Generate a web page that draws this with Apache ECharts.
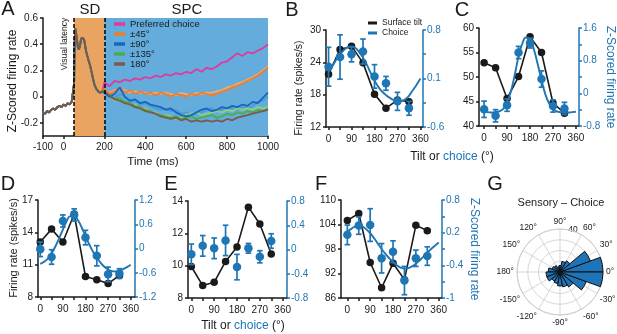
<!DOCTYPE html>
<html>
<head>
<meta charset="utf-8">
<script src="https://cdn.jsdelivr.net/npm/echarts@6.0.0/dist/echarts.min.js"></script>
<style>
  html, body { margin: 0; padding: 0; background: #fff; }
  #chart { width: 617px; height: 334px; }
</style>
</head>
<body>
<div id="chart"></div>
<script>
// ---- Panel A: z-scored firing rate over time ----
const earlyTimes = [-100, -90, -80, -70, -60, -50, -40, -30, -20, -10, 0, 10, 20, 30, 40,
  48, 52, 55, 58, 62, 66, 70, 75, 80, 85, 90, 95, 100, 105, 110,
  120, 130, 140, 150, 160, 170, 180, 190];
const earlyZ = [-0.12, -0.13, -0.11, -0.12, -0.10, -0.09, -0.10, -0.08, -0.07, -0.08, -0.06, -0.07, -0.05, -0.06, -0.04,
  -0.03, 0.10, 0.42, 0.52, 0.48, 0.44, 0.38, 0.36, 0.38, 0.43, 0.45, 0.46, 0.44, 0.40, 0.35,
  0.29, 0.24, 0.17, 0.10, 0.06, 0.04, 0.03, 0.04];
const lateTimes = [200, 225, 250, 275, 300, 325, 350, 375, 400, 425, 450, 475, 500, 525, 550, 575,
  600, 625, 650, 675, 700, 725, 750, 775, 800, 825, 850, 875, 900, 925, 950, 975, 1000];
const preferredLate = [0.11, 0.08, 0.12, 0.11, 0.13, 0.12, 0.14, 0.13, 0.15, 0.14, 0.16, 0.15, 0.17, 0.16, 0.18, 0.17,
  0.19, 0.18, 0.21, 0.19, 0.22, 0.21, 0.23, 0.26, 0.27, 0.30, 0.33, 0.31, 0.34, 0.33, 0.35, 0.37, 0.40];
const pos45Late = [0.06, 0.02, 0.04, 0.07, 0.03, 0.05, 0.02, 0.04, 0.02, 0.03, 0.01, 0.03, 0.02, 0.00, 0.02, 0.01,
  0.00, 0.02, 0.01, 0.03, 0.02, 0.01, 0.02, 0.04, 0.05, 0.07, 0.08, 0.10, 0.12, 0.14, 0.16, 0.19, 0.22];
const neg45Late = [0.05, 0.03, 0.05, 0.06, 0.05, 0.03, 0.04, 0.03, 0.03, 0.02, 0.03, 0.02, 0.03, 0.02, 0.01, 0.03,
  0.02, 0.01, 0.03, 0.02, 0.03, 0.03, 0.04, 0.05, 0.07, 0.08, 0.10, 0.11, 0.13, 0.15, 0.17, 0.20, 0.23];
const pos90Late = [0.03, 0.00, 0.02, 0.07, 0.00, -0.03, -0.02, -0.05, -0.04, -0.06, -0.07, -0.08, -0.10, -0.09, -0.12, -0.14,
  -0.15, -0.14, -0.12, -0.10, -0.09, -0.11, -0.10, -0.08, -0.09, -0.07, -0.08, -0.06, -0.07, -0.04, -0.05, -0.01, 0.03];
const neg90Late = [0.02, 0.01, -0.01, 0.02, 0.00, -0.04, -0.03, -0.06, -0.05, -0.07, -0.09, -0.10, -0.09, -0.11, -0.10, -0.13,
  -0.12, -0.14, -0.13, -0.12, -0.10, -0.09, -0.11, -0.10, -0.08, -0.09, -0.10, -0.08, -0.09, -0.07, -0.04, -0.03, 0.00];
const pos135Late = [0.04, 0.00, -0.02, -0.01, -0.04, -0.05, -0.07, -0.08, -0.10, -0.11, -0.13, -0.14, -0.15, -0.16, -0.15, -0.17,
  -0.16, -0.15, -0.17, -0.16, -0.15, -0.14, -0.16, -0.15, -0.13, -0.14, -0.12, -0.13, -0.11, -0.12, -0.10, -0.11, -0.09];
const neg135Late = [0.03, 0.01, -0.03, -0.02, -0.05, -0.06, -0.06, -0.09, -0.09, -0.12, -0.12, -0.15, -0.14, -0.15, -0.17, -0.16,
  -0.14, -0.13, -0.12, -0.14, -0.13, -0.12, -0.11, -0.12, -0.10, -0.11, -0.09, -0.10, -0.09, -0.10, -0.08, -0.09, -0.08];
const oppositeLate = [0.04, 0.01, -0.02, -0.03, -0.05, -0.06, -0.08, -0.09, -0.11, -0.12, -0.13, -0.15, -0.16, -0.17, -0.16, -0.18,
  -0.17, -0.19, -0.18, -0.19, -0.18, -0.19, -0.18, -0.19, -0.17, -0.18, -0.16, -0.15, -0.14, -0.13, -0.12, -0.11, -0.10];
const timeLabels = [-100, 0, 200, 400, 600, 800, 1000];
const zLabels = [-0.2, 0, 0.2, 0.4, 0.6];
const visualLatency = 52;
const choiceOnset = 200;

// ---- Panels B-F: tuning curves ----
const tiltAngles = [0, 45, 90, 135, 180, 225, 270, 315];
const fitAngles = [0, 15, 30, 45, 60, 75, 90, 105, 120, 135, 150, 165, 180, 195, 210, 225, 240, 255, 270, 285, 300, 315, 330, 345, 360];
const angleLabels = [0, 90, 180, 270, 360];
const angleTicks = [0, 45, 90, 135, 180, 225, 270, 315, 360];

const bTilt = [21.8, 26.4, 27.0, 23.9, 18.1, 15.5, 17.0, 16.7];
const bChoice = [0.27, 0.41, 0.45, 0.49, 0.13, 0.03, -0.23, -0.33];
const bErr = [0.28, 0.32, 0.11, 0.18, 0.17, 0.10, 0.13, 0.10];
const bFit = [0.20, 0.28, 0.37, 0.45, 0.51, 0.55, 0.56, 0.54, 0.48, 0.40, 0.30, 0.18, 0.07, -0.02, -0.09, -0.14,
  -0.18, -0.21, -0.22, -0.22, -0.20, -0.15, -0.07, 0.01, 0.10];

const cTilt = [52.9, 51.9, 45.6, 50.1, 58.2, 55.0, 44.7, 42.6];
const cChoice = [-0.39, -0.55, -0.29, 1.00, 1.23, 0.35, -0.31, -0.37];
const cErr = [0.20, 0.15, 0.15, 0.15, 0.12, 0.20, 0.15, 0.15];
const cFit = [-0.45, -0.46, -0.47, -0.46, -0.44, -0.38, -0.22, 0.05, 0.45, 0.90, 1.22, 1.37, 1.32, 1.08, 0.72, 0.33,
  -0.02, -0.25, -0.38, -0.44, -0.46, -0.47, -0.47, -0.46, -0.45];

const dTilt = [13.1, 14.3, 13.1, 15.7, 9.9, 9.6, 9.25, 10.0];
const dChoice = [-0.02, -0.21, 0.68, 0.83, 0.27, -0.18, -0.64, -0.62];
const dErr = [0.18, 0.18, 0.15, 0.15, 0.18, 0.25, 0.18, 0.12];
const dFit = [-0.38, -0.33, -0.25, -0.12, 0.05, 0.25, 0.47, 0.68, 0.80, 0.80, 0.70, 0.52, 0.30, 0.10, -0.08, -0.22,
  -0.35, -0.45, -0.52, -0.56, -0.57, -0.55, -0.51, -0.46, -0.40];

const eTilt = [9.95, 8.77, 8.97, 10.26, 11.15, 13.62, 12.58, 10.72];
const eChoice = [-0.08, 0.06, 0.02, 0.15, -0.29, 0.02, -0.12, 0.14];
const eErr = [0.17, 0.17, 0.17, 0.25, 0.21, 0.08, 0.10, 0.12];

const fTilt = [105.0, 106.7, 94.7, 88.5, 94.5, 90.5, 103.8, 102.5];
const fChoice = [0.16, 0.33, 0.34, -0.27, -0.15, -0.68, -0.27, -0.23];
const fErr = [0.18, 0.16, 0.30, 0.27, 0.20, 0.26, 0.15, 0.17];
const fFit = [0.21, 0.27, 0.31, 0.33, 0.31, 0.26, 0.19, 0.10, 0.00, -0.10, -0.19, -0.27, -0.34, -0.40, -0.44, -0.46,
  -0.45, -0.42, -0.37, -0.31, -0.24, -0.17, -0.10, -0.04, 0.02];

// ---- Panel G: sensory - choice angle histogram (20 deg bins from 0 deg, counter-clockwise) ----
const roseBins = ['0', '20', '40', '60', '80', '100', '120', '140', '160', '180', '200', '220', '240', '260', '280', '300', '320', '340'];
const roseCounts = [40, 30, 12, 10, 6, 5, 7, 8, 11, 13, 13, 10, 11, 13, 14, 16, 26, 40];

const FONT = '"Liberation Sans", Arial, Helvetica, sans-serif';
const INK = '#1a1a1a';
const BLUE = '#1f76b4';
const GRIDGREY = '#cdcdcd';

const pairs = (xs, ys) => xs.map((x, i) => [x, ys[i]]);

const panels = [
  { box: [326, 30, 97, 97], xr: [-10, 370], left: [12, 30], leftLabels: [12, 18, 24, 30],
    right: [-0.6, 0.8], rightLabels: [-0.6, 0.1, 0.8], rightTicks: [-0.6, -0.25, 0.1, 0.45, 0.8],
    tilt: bTilt, choice: bChoice, err: bErr, fit: bFit },
  { box: [479, 28, 100, 98], xr: [-20, 372], left: [40, 60], leftLabels: [40, 45, 50, 55, 60],
    right: [-0.8, 1.6], rightLabels: [-0.8, 0, 0.8, 1.6], rightTicks: [-0.8, -0.4, 0, 0.4, 0.8, 1.2, 1.6],
    tilt: cTilt, choice: cChoice, err: cErr, fit: cFit },
  { box: [38, 200, 97, 97], xr: [-9, 377], left: [8, 17], leftLabels: [8, 11, 14, 17],
    right: [-1.2, 1.2], rightLabels: [-1.2, -0.6, 0, 0.6, 1.2], rightTicks: [-1.2, -0.6, 0, 0.6, 1.2],
    tilt: dTilt, choice: dChoice, err: dErr, fit: dFit },
  { box: [188, 201, 99, 97], xr: [-13, 377], left: [8, 14], leftLabels: [8, 10, 12, 14],
    right: [-0.8, 0.8], rightLabels: [-0.8, -0.4, 0, 0.4, 0.8], rightTicks: [-0.8, -0.4, 0, 0.4, 0.8],
    tilt: eTilt, choice: eChoice, err: eErr, fit: null },
  { box: [341, 200, 101, 98], xr: [-25, 373], left: [86, 110], leftLabels: [86, 92, 98, 104, 110],
    right: [-1, 0.8], rightLabels: [-1, -0.4, 0.2, 0.8], rightTicks: [-1, -0.7, -0.4, -0.1, 0.2, 0.5, 0.8],
    tilt: fTilt, choice: fChoice, err: fErr, fit: fFit }
];

const axisLineStyle = color => ({ color, width: 1.5 });
const plain = v => String(v);

const grids = [{ left: 43, top: 18, width: 225, height: 118, outerBoundsMode: 'none' }];
const xAxes = [{
  type: 'value', gridIndex: 0, min: -100, max: 1000,
  axisLine: { show: true, onZero: false, lineStyle: axisLineStyle(INK) },
  axisTick: { show: true, length: 3, customValues: timeLabels, lineStyle: axisLineStyle(INK) },
  axisLabel: { customValues: timeLabels, formatter: plain, fontSize: 10, color: INK, margin: 6, fontFamily: FONT },
  splitLine: { show: false }
}];
const yAxes = [{
  type: 'value', gridIndex: 0, min: -0.3, max: 0.6,
  axisLine: { show: true, onZero: false, lineStyle: axisLineStyle(INK) },
  axisTick: { show: true, length: 3, customValues: zLabels, lineStyle: axisLineStyle(INK) },
  axisLabel: { customValues: zLabels, formatter: plain, fontSize: 10, color: INK, margin: 5, fontFamily: FONT },
  splitLine: { show: false }
}];

const lineSeries = (name, late, color, z) => ({
  name, type: 'line', xAxisIndex: 0, yAxisIndex: 0, color,
  data: pairs(earlyTimes, earlyZ).concat(pairs(lateTimes, late)),
  showSymbol: false, lineStyle: { width: 1.8, color }, z, silent: true, animation: false
});

const series = [
  {
    type: 'line', xAxisIndex: 0, yAxisIndex: 0, data: [], z: 1, silent: true,
    markArea: {
      silent: true,
      data: [
        [{ xAxis: visualLatency, itemStyle: { color: '#e9a462', opacity: 1 } }, { xAxis: choiceOnset }],
        [{ xAxis: choiceOnset, itemStyle: { color: '#63acdc', opacity: 1 } }, { xAxis: 1000 }]
      ]
    }
  },
  lineSeries('Preferred choice', preferredLate, '#df3a9c', 2),
  lineSeries('-45°', neg45Late, '#f5a865', 2),
  lineSeries('-90°', neg90Late, '#4d9ad6', 2),
  lineSeries('-135°', neg135Late, '#8fd07c', 2),
  lineSeries('±45°', pos45Late, '#ef7d2b', 3),
  lineSeries('±135°', pos135Late, '#4aae4a', 3),
  lineSeries('±90°', pos90Late, '#1666c0', 3),
  lineSeries('180°', oppositeLate, '#7c5a45', 3),
  {
    type: 'line', xAxisIndex: 0, yAxisIndex: 0, data: [], z: 4, silent: true,
    markLine: {
      silent: true, symbol: ['none', 'none'], label: { show: false },
      lineStyle: { color: '#000', width: 1.5, type: [4, 2] },
      data: [{ xAxis: visualLatency }, { xAxis: choiceOnset }]
    }
  }
];

panels.forEach((p, k) => {
  const gi = k + 1;
  const yl = 2 * k + 1;
  const yr = 2 * k + 2;
  grids.push({ left: p.box[0], top: p.box[1], width: p.box[2], height: p.box[3], outerBoundsMode: 'none' });
  xAxes.push({
    type: 'value', gridIndex: gi, min: p.xr[0], max: p.xr[1],
    axisLine: { show: true, onZero: false, lineStyle: axisLineStyle(INK) },
    axisTick: { show: true, length: 3, customValues: angleTicks, lineStyle: axisLineStyle(INK) },
    axisLabel: { customValues: angleLabels, formatter: plain, fontSize: 10, color: INK, margin: 7, fontFamily: FONT },
    splitLine: { show: false }
  });
  yAxes.push({
    type: 'value', gridIndex: gi, position: 'left', min: p.left[0], max: p.left[1],
    axisLine: { show: true, onZero: false, lineStyle: axisLineStyle(INK) },
    axisTick: { show: true, length: 3, customValues: p.leftLabels, lineStyle: axisLineStyle(INK) },
    axisLabel: { customValues: p.leftLabels, formatter: plain, fontSize: 10, color: INK, margin: 5, fontFamily: FONT },
    splitLine: { show: false }
  });
  yAxes.push({
    type: 'value', gridIndex: gi, position: 'right', min: p.right[0], max: p.right[1],
    axisLine: { show: true, onZero: false, lineStyle: axisLineStyle(BLUE) },
    axisTick: { show: true, length: 3, customValues: p.rightTicks, lineStyle: axisLineStyle(BLUE) },
    axisLabel: { customValues: p.rightLabels, formatter: plain, fontSize: 10, color: BLUE, margin: 4, fontFamily: FONT },
    splitLine: { show: false }
  });

  series.push({
    name: 'Surface tilt', type: 'line', xAxisIndex: gi, yAxisIndex: yl, color: INK,
    data: pairs(tiltAngles, p.tilt), symbol: 'circle', symbolSize: 7.5,
    lineStyle: { color: INK, width: 1.6 }, itemStyle: { color: INK, opacity: 1 }, z: 2, animation: false
  });
  if (p.fit) {
    series.push({
      type: 'line', xAxisIndex: gi, yAxisIndex: yr, data: pairs(fitAngles, p.fit),
      smooth: true, showSymbol: false, lineStyle: { color: BLUE, width: 1.9 }, color: BLUE,
      z: 3, silent: true, animation: false
    });
  }
  series.push({
    type: 'custom', xAxisIndex: gi, yAxisIndex: yr, z: 4, silent: true, animation: false,
    encode: { x: 0, y: [1, 2] },
    data: tiltAngles.map((a, i) => [a, p.choice[i] - p.err[i], p.choice[i] + p.err[i]]),
    renderItem: (params, api) => {
      const lo = api.coord([api.value(0), api.value(1)]);
      const hi = api.coord([api.value(0), api.value(2)]);
      const w = 2.8;
      const st = { stroke: BLUE, lineWidth: 1.7 };
      return {
        type: 'group',
        children: [
          { type: 'line', shape: { x1: lo[0], y1: lo[1], x2: hi[0], y2: hi[1] }, style: st },
          { type: 'line', shape: { x1: lo[0] - w, y1: lo[1], x2: lo[0] + w, y2: lo[1] }, style: st },
          { type: 'line', shape: { x1: hi[0] - w, y1: hi[1], x2: hi[0] + w, y2: hi[1] }, style: st }
        ]
      };
    }
  });
  series.push({
    name: 'Choice', type: 'scatter', xAxisIndex: gi, yAxisIndex: yr, color: BLUE,
    data: pairs(tiltAngles, p.choice), symbolSize: 8.5, itemStyle: { color: BLUE, opacity: 1 }, z: 5, animation: false
  });
});

series.push({
  type: 'bar', coordinateSystem: 'polar', polarIndex: 1, data: roseCounts,
  barCategoryGap: '0%', barGap: '0%', animation: false, silent: true,
  itemStyle: { color: '#1f73b7', borderColor: '#111', borderWidth: 1, opacity: 1 }, z: 3
});

const T = (x, y, text, size, rotation, fill) => ({
  type: 'text', x, y, rotation: rotation || 0, silent: true,
  style: { text, fontSize: size, fontFamily: FONT, fill: fill || INK, align: 'center', verticalAlign: 'middle' }
});
const tiltTitle = (x, y) => ({
  type: 'text', x, y, silent: true,
  style: {
    text: '{a|Tilt or }{b|choice}{a| (°)}', align: 'center', verticalAlign: 'middle', fontFamily: FONT,
    rich: { a: { fontSize: 12, fill: INK, fontFamily: FONT }, b: { fontSize: 12, fill: BLUE, fontFamily: FONT } }
  }
});
const halfPi = Math.PI / 2;

const option = {
  animation: false,
  backgroundColor: '#fff',
  textStyle: { fontFamily: FONT },
  grid: grids,
  xAxis: xAxes,
  yAxis: yAxes,
  polar: [
    { center: [560, 272], radius: 43 },
    { center: [560, 272], radius: 43 }
  ],
  angleAxis: [
    {
      polarIndex: 0, type: 'value', min: 0, max: 360, interval: 30, startAngle: 0, clockwise: false,
      axisLine: { lineStyle: { color: GRIDGREY, width: 1 } },
      axisTick: { show: false },
      splitLine: { show: true, lineStyle: { color: GRIDGREY, width: 0.8 } },
      axisLabel: { formatter: v => (v > 180 ? v - 360 : v) + '°', fontSize: 8.5, color: INK, margin: 3, fontFamily: FONT }
    },
    {
      polarIndex: 1, type: 'category', data: roseBins, startAngle: 0, clockwise: false,
      axisLine: { show: false }, axisTick: { show: false }, axisLabel: { show: false }, splitLine: { show: false }
    }
  ],
  radiusAxis: [
    {
      polarIndex: 0, min: 0, max: 40, interval: 10,
      axisLine: { show: false }, axisTick: { show: false }, axisLabel: { show: false },
      splitLine: { show: true, lineStyle: { color: GRIDGREY, width: 0.8 } }
    },
    { polarIndex: 1, min: 0, max: 40, show: false }
  ],
  legend: [
    {
      data: ['Preferred choice', '±45°', '±90°', '±135°', '180°'],
      left: 114, top: 19, orient: 'vertical', icon: 'rect', itemWidth: 11, itemHeight: 3.5,
      itemGap: 0, itemTextGap: 3, padding: 0, selectedMode: false,
      textStyle: { fontSize: 9.5, lineHeight: 9.4, color: INK, fontFamily: FONT }
    },
    {
      data: ['Surface tilt', 'Choice'],
      left: 368, top: 18, orient: 'vertical', icon: 'rect', itemWidth: 9, itemHeight: 3,
      itemGap: 0, itemTextGap: 2, padding: 0, selectedMode: false,
      textStyle: { fontSize: 8.5, lineHeight: 10, color: INK, fontFamily: FONT }
    }
  ],
  graphic: {
    elements: [
      T(8, 9, 'A', 20), T(292, 10, 'B', 20), T(462, 10, 'C', 20),
      T(8, 184, 'D', 20), T(171, 184, 'E', 20), T(321, 184, 'F', 20), T(495, 184, 'G', 20),
      T(90, 10, 'SD', 15), T(187, 10, 'SPC', 15),
      T(65, 44, 'Visual latency', 8.5, halfPi), T(97, 47, 'Choice onset', 8.5, halfPi),
      T(153, 162, 'Time (ms)', 11.5),
      T(13, 81, 'Z-Scored firing rate', 12, halfPi),
      T(299, 88, 'Firing rate (spikes/s)', 10.5, halfPi),
      T(610, 77, 'Z-Scored firing rate', 12, -halfPi, BLUE),
      T(14, 248, 'Firing rate (spikes/s)', 11, halfPi),
      T(474, 249, 'Z-Scored firing rate', 12, -halfPi, BLUE),
      tiltTitle(452, 157), tiltTitle(243, 326),
      T(561, 203, 'Sensory – Choice', 11),
      T(573, 230, '40', 8.5)
    ]
  },
  series
};

const chart = echarts.init(document.getElementById('chart'));
chart.setOption(option);
</script>
</body>
</html>
